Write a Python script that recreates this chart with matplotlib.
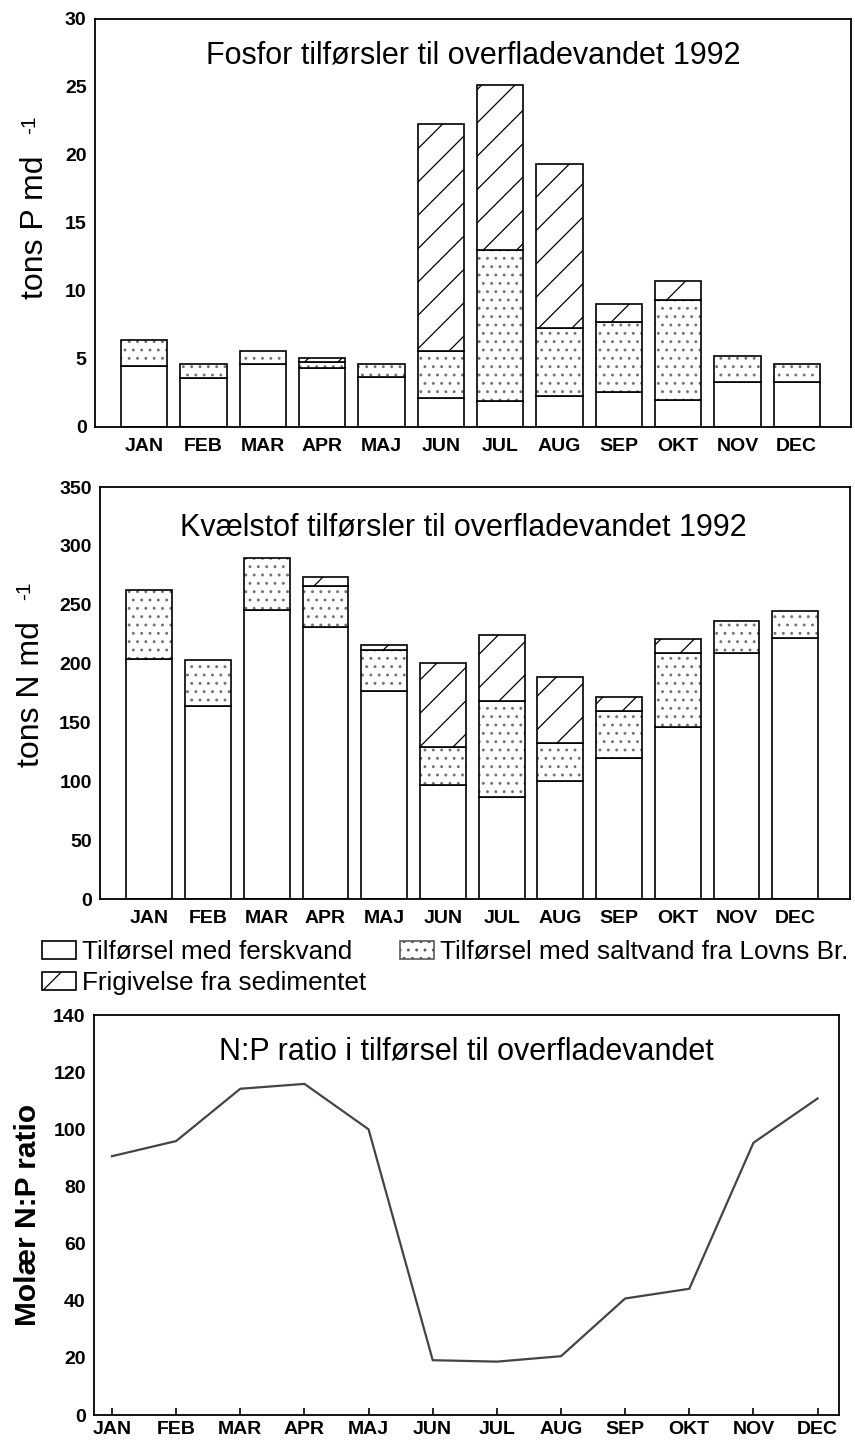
import matplotlib; matplotlib.use("Agg")
import matplotlib.pyplot as plt
import numpy as np
from matplotlib.patches import Patch

plt.rcParams["font.family"] = ["Liberation Sans", "DejaVu Sans"]
plt.rcParams["hatch.linewidth"] = 0.9

MONTHS = ["JAN", "FEB", "MAR", "APR", "MAJ", "JUN", "JUL", "AUG", "SEP", "OKT", "NOV", "DEC"]

# phosphorus, tons P per day (segments: freshwater, saltwater, sediment release)
p_fresh = [4.5, 3.6, 4.6, 4.3, 3.7, 2.1, 1.9, 2.3, 2.6, 2.0, 3.3, 3.3]
p_salt = [1.9, 1.0, 1.0, 0.5, 0.9, 3.5, 11.1, 5.0, 5.1, 7.3, 1.9, 1.3]
p_sed = [0, 0, 0, 0.3, 0, 16.7, 12.1, 12.0, 1.3, 1.4, 0, 0]

# nitrogen, tons N per day
n_fresh = [204, 164, 246, 231, 177, 97, 87, 100, 120, 146, 209, 222]
n_salt = [59, 39, 44, 35, 35, 32, 81, 33, 40, 63, 27, 23]
n_sed = [0, 0, 0, 8, 4, 72, 56, 56, 12, 12, 0, 0]

# molar N:P ratio of the input
np_ratio = [90.6, 95.9, 114.2, 115.9, 100.0, 19.2, 18.7, 20.6, 40.8, 44.2, 95.3, 110.8]

TICKFONT = dict(fontsize=14, fontweight="bold")
x = np.arange(len(MONTHS))
W = 0.78


def stack(ax, fresh, salt, sed):
    fresh, salt, sed = map(np.array, (fresh, salt, sed))
    ax.bar(x, fresh, W, color="white", edgecolor="black", lw=1.2)
    # hatch layer drawn without outline so the dots can be grey
    ax.bar(x, salt, W, bottom=fresh, color="white", edgecolor="0.45", hatch="..", lw=0)
    ax.bar(x, salt, W, bottom=fresh, fill=False, edgecolor="black", lw=1.2)
    m = sed > 0
    ax.bar(x[m], sed[m], W, bottom=(fresh + salt)[m], color="white", edgecolor="black",
           hatch="/", lw=1.2)


def style(ax, ymax, step):
    ax.set_ylim(0, ymax)
    ax.set_yticks(np.arange(0, ymax + 1e-9, step))
    ax.set_xticks(x)
    ax.set_xticklabels(MONTHS, **TICKFONT)
    for lab in ax.get_yticklabels():
        lab.set_fontsize(TICKFONT["fontsize"]); lab.set_fontweight("bold")
    ax.tick_params(axis="y", length=0, pad=6)
    ax.tick_params(axis="x", length=0, pad=8)
    for s in ax.spines.values():
        s.set_linewidth(1.3)


def ylab(ax, text, xlab, ylab_, xsup, ysup):
    ax.text(xlab, ylab_, text, transform=ax.transAxes, rotation=90,
            ha="center", va="center", fontsize=23)
    ax.text(xsup, ysup, "-1", transform=ax.transAxes, rotation=90,
            ha="center", va="center", fontsize=15)


fig = plt.figure(figsize=(8.55, 14.41), dpi=100)

# --- phosphorus ---
ax1 = fig.add_axes([0.111, 0.7037, 0.884, 0.2833])
stack(ax1, p_fresh, p_salt, p_sed)
ax1.set_xlim(-0.83, 11.91)
style(ax1, 30, 5)
ax1.text(0.5, 0.91, "Fosfor tilførsler til overfladevandet 1992", transform=ax1.transAxes,
         ha="center", va="center", fontsize=22)
ylab(ax1, "tons P md", -0.079, 0.49, -0.087, 0.74)

# --- nitrogen ---
ax2 = fig.add_axes([0.117, 0.376, 0.877, 0.286])
stack(ax2, n_fresh, n_salt, n_sed)
ax2.set_xlim(-0.84, 11.93)
style(ax2, 350, 50)
ax2.text(0.485, 0.903, "Kvælstof tilførsler til overfladevandet 1992", transform=ax2.transAxes,
         ha="center", va="center", fontsize=22)
ylab(ax2, "tons N md", -0.092, 0.498, -0.1, 0.748)

# legend (two parts so the saltwater entry sits at the right place)
LEG = dict(frameon=False, fontsize=18.8, handlelength=1.3, handleheight=0.72,
           handletextpad=0.22, labelspacing=0.28, borderpad=0, borderaxespad=0)
fig.legend([Patch(facecolor="white", edgecolor="black", lw=1.2),
            Patch(facecolor="white", edgecolor="black", hatch="/", lw=1.2)],
           ["Tilførsel med ferskvand", "Frigivelse fra sedimentet"],
           loc="upper left", bbox_to_anchor=(42 / 855, 1 - 940 / 1441), **LEG)
fig.legend([Patch(facecolor="white", edgecolor="0.35", hatch="..", lw=1.2)],
           ["Tilførsel med saltvand fra Lovns Br."],
           loc="upper left", bbox_to_anchor=(400 / 855, 1 - 940 / 1441), **LEG)

# --- N:P ratio ---
ax3 = fig.add_axes([0.110, 0.018, 0.871, 0.2776])
ax3.plot(x, np_ratio, color="#444444", lw=1.6)
ax3.set_xlim(-0.28, 11.33)
ax3.set_ylim(0, 140)
ax3.set_yticks(np.arange(0, 141, 20))
ax3.set_xticks(x)
ax3.set_xticklabels(MONTHS, **TICKFONT)
for lab in ax3.get_yticklabels():
    lab.set_fontsize(TICKFONT["fontsize"]); lab.set_fontweight("bold")
ax3.tick_params(axis="y", length=0, pad=6)
ax3.tick_params(axis="x", direction="in", length=5, width=1.2, pad=4)
for s in ax3.spines.values():
    s.set_linewidth(1.3)
ax3.text(0.5, 0.91, "N:P ratio i tilførsel til overfladevandet", transform=ax3.transAxes,
         ha="center", va="center", fontsize=22)
ax3.set_ylabel("Molær N:P ratio", fontsize=21.5, fontweight="bold", labelpad=8)

fig.savefig("out.png", dpi=100, facecolor="white")
